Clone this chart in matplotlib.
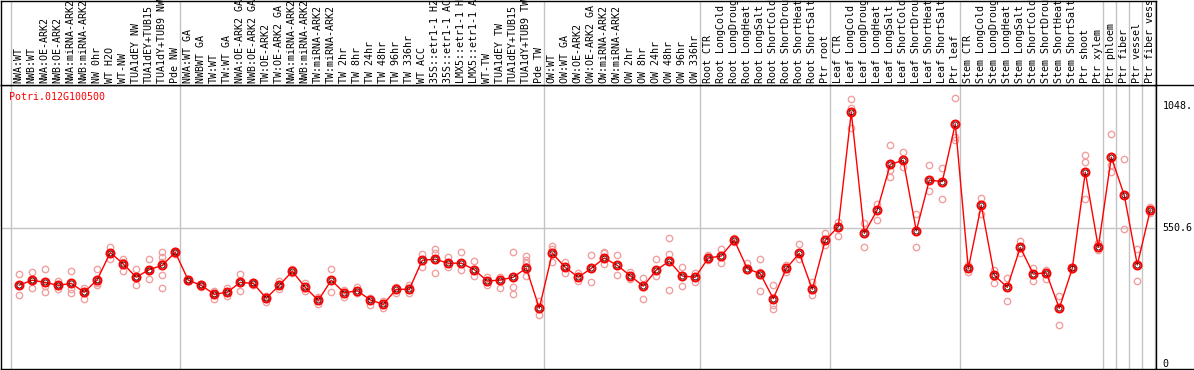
import matplotlib
matplotlib.use("Agg")
import matplotlib.pyplot as plt
from matplotlib.lines import Line2D

samples = ["NWA:WT", "NWB:WT", "NWA:OE-ARK2", "NWB:OE-ARK2", "NWA:miRNA-ARK2", "NWB:miRNA-ARK2",
           "NW 0hr", "WT H2O", "WT-NW", "TUA1dEY NW", "TUA1dEY+TUB15", "TUA1dY+TUB9 NW", "Pde NW",
           "NWA:WT GA", "NWBWT GA", "TW:WT", "TW:WT GA", "NWA:OE-ARK2 GA", "NWB:OE-ARK2 GA",
           "TW:OE-ARK2", "TW:OE-ARK2 GA", "NWA:miRNA-ARK2", "NWB:miRNA-ARK2", "TW:miRNA-ARK2",
           "TW:miRNA-ARK2", "TW 2hr", "TW 8hr", "TW 24hr", "TW 48hr", "TW 96hr", "TW 336hr", "WT ACC",
           "35S::etr1-1 H2", "35S::etr1-1 AC", "LMX5::etr1-1 H", "LMX5::etr1-1 A", "WT-TW",
           "TUA1dEY TW", "TUA1dEY+TUB15", "TUA1dY+TUB9 TW", "Pde TW",
           "OW:WT", "OW:WT GA", "OW:OE-ARK2", "OW:OE-ARK2 GA", "OW:miRNA-ARK2", "OW:miRNA-ARK2",
           "OW 2hr", "OW 8hr", "OW 24hr", "OW 48hr", "OW 96hr", "OW 336hr",
           "Root CTR", "Root LongCold", "Root LongDroug", "Root LongHeat", "Root LongSalt",
           "Root ShortCold", "Root ShortDrou", "Root ShortHeat", "Root ShortSalt", "Ptr root",
           "Leaf CTR", "Leaf LongCold", "Leaf LongDroug", "Leaf LongHeat", "Leaf LongSalt",
           "Leaf ShortCold", "Leaf ShortDrou", "Leaf ShortHeat", "Leaf ShortSalt", "Ptr leaf",
           "Stem CTR", "Stem LongCold", "Stem LongDroug", "Stem LongHeat", "Stem LongSalt",
           "Stem ShortCold", "Stem ShortDrou", "Stem ShortHeat", "Stem ShortSalt", "Ptr shoot",
           "Ptr xylem", "Ptr phloem", "Ptr fiber", "Ptr vessel", "Ptr fiber vess"]

# group separators (sample index where a new group starts)
group_breaks = [0, 13, 41, 53, 63, 73, 84, 85, 86, 87, 88]

means = [320, 340, 331, 319, 327, 291, 342, 452, 406, 352, 383, 400, 453,
         340, 319, 283, 291, 331, 327, 267, 319, 376, 311, 258, 340, 289, 297, 260, 242,
         303, 303, 421, 425, 409, 409, 383, 336, 341, 352, 389, 226,
         449, 392, 352, 388, 430, 400, 358, 316, 381, 417, 357, 352,
         430, 438, 502, 387, 366, 265, 388, 449, 303, 502,
         557, 1021, 530, 625, 810, 826, 540, 746, 740, 974,
         388, 644, 360, 311, 473, 365, 370, 226, 388, 778, 473,
         839, 684, 402, 625]

reps = [[364, 320, 279], [373, 307, 339], [384, 316, 293], [337, 306, 319], [377, 303, 287],
        [308, 264, 291], [384, 327, 320], [476, 425, 452], [425, 377, 415], [384, 320, 352],
        [425, 343, 383], [456, 435, 415, 361, 307], [453, 460, 446],
        [340, 336, 344], [319, 314, 324], [298, 264, 283], [307, 276, 291], [364, 298, 331],
        [327, 322, 332], [277, 250, 267], [338, 306, 319], [384, 368], [327, 298], [273, 243],
        [384, 292], [300, 273], [314, 287], [269, 239], [256, 226], [314, 289], [319, 289],
        [446, 395], [465, 449, 368], [435, 395], [454, 381], [417, 357], [354, 320],
        [354, 310], [453, 314, 284], [438, 422, 408, 357], [256, 197],
        [479, 465, 415], [415, 371], [368, 337], [442, 333], [456, 449, 406], [442, 361],
        [375, 343], [348, 262], [425, 357], [510, 446, 300], [395, 316], [371, 334],
        [441, 422], [468, 411], [510, 496], [408, 381], [425, 375, 296], [320, 239, 223],
        [402, 375], [487, 425], [334, 279], [530, 483],
        [577, 519], [1075, 1037, 956], [571, 476], [649, 584], [888, 787, 760], [859, 801],
        [607, 473], [807, 703], [794, 669], [1078, 920, 909],
        [402, 375], [672, 609], [381, 327], [348, 256], [500, 449], [388, 338], [381, 345],
        [276, 158], [395, 384], [848, 821, 669], [490, 462],
        [933, 807, 780], [830, 546], [467, 337], [638, 611]]

gene = "Potri.012G100500"
ytick_vals = [1048, 550.6, 0]
ytick_labels = ["1048.", "550.6", "0"]

W, H = 1194, 370
fig = plt.figure(figsize=(W / 100, H / 100), dpi=100)
mono = "DejaVu Sans Mono"
grey = "#c4c4c4"


def px_axes(l, t, r, b):
    return fig.add_axes([l / W, 1 - b / H, (r - l) / W, (b - t) / H])


xmin, xmax = -0.754, 88.05
ax = px_axes(1, 85, 1155.5, 369)
hx = px_axes(1, 0.5, 1155.5, 85)

xs = [i + 0.65 for i in range(len(samples))]

for a in (ax, hx):
    a.set_xlim(xmin, xmax)
    a.set_xticks([])
    a.set_yticks([])
    for s in a.spines.values():
        s.set_color("black")
        s.set_linewidth(1)
    for b in group_breaks:
        a.axvline(b, color=grey, lw=1, zorder=1)

ax.set_ylim(-20.3, 1131.8)
ax.axhline(550.6, color=grey, lw=1, zorder=1)

for x, r in zip(xs, reps):
    ax.plot([x] * len(r), r, "o", mfc="none", mec="#f0a0a0", ms=4.6, mew=1, zorder=2)

ax.plot(xs, means, color="red", lw=1, zorder=3)
ax.plot(xs, means, "o", mfc="none", mec="red", ms=5.8, mew=1.4, zorder=4)
ax.plot(xs, means, "o", mfc="none", mec="#300000", ms=3.6, mew=0.6, zorder=5)

for v, lab in zip(ytick_vals, ytick_labels):
    ax.text(1 + 7 / 1154.5, v, lab, transform=ax.get_yaxis_transform(), va="center",
            ha="left", fontsize=7.2, family=mono, clip_on=False)

ax.text(8 / 1154.5, 1 - 12 / 284, gene, transform=ax.transAxes, color="red",
        fontsize=7.2, family=mono, va="center", ha="left")

hx.set_ylim(0, 1)
for x, name in zip(xs, samples):
    hx.text(x - 0.05, 0.025, name, rotation=90, ha="center", va="bottom",
            fontsize=7.2, family=mono)

for yy in (85, 369):
    fig.add_artist(Line2D([1155 / W, 1], [1 - yy / H, 1 - yy / H], color="black", lw=1,
                          transform=fig.transFigure))

fig.savefig("out.png", dpi=100)
